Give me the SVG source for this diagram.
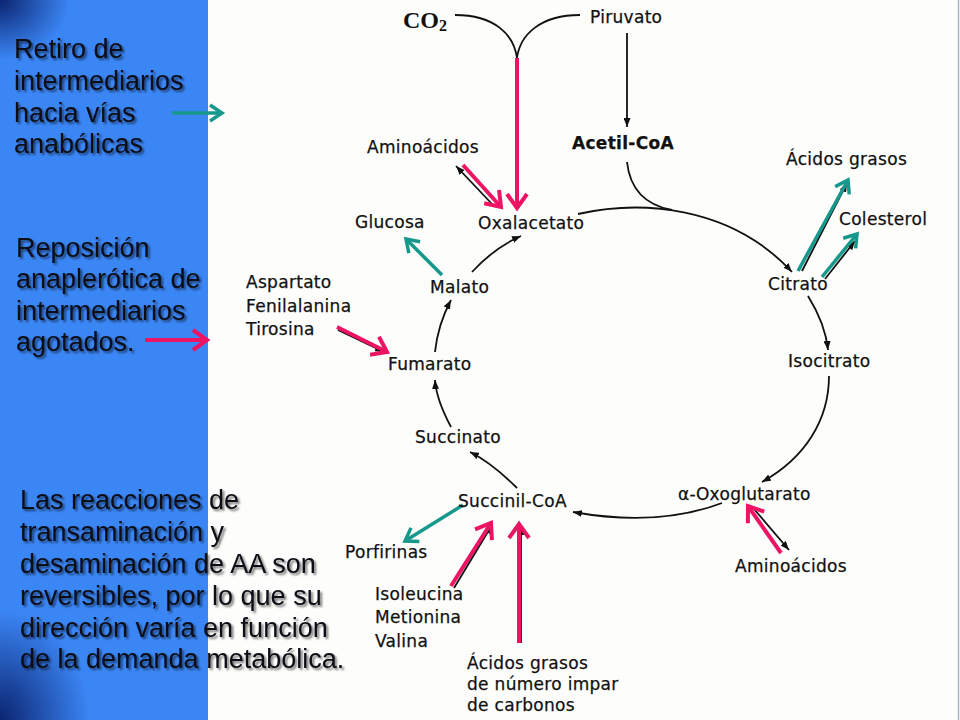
<svg xmlns="http://www.w3.org/2000/svg" width="960" height="720" viewBox="0 0 960 720">
<defs>
<style>
.lbl{font-family:"DejaVu Sans",sans-serif;font-size:17px;letter-spacing:0.3px;fill:#111;stroke:#111;stroke-width:0.25}
.bold{font-weight:bold}
.side{font-family:"Liberation Sans",Arial,sans-serif;font-size:27px;fill:#0a0a14}
.blk{fill:none;stroke:#111;stroke-width:1.8}
.pink{fill:none;stroke:#ec1463;stroke-width:4}
.teal{fill:none;stroke:#17988c;stroke-width:3.5}
</style>
<marker id="ah" viewBox="0 0 9 7" refX="9" refY="3.5" markerWidth="9" markerHeight="7" markerUnits="userSpaceOnUse" orient="auto"><path d="M0,0 L9,3.5 L0,7 z" fill="#111"/></marker>
<marker id="ph" viewBox="0 0 18 24" refX="16" refY="12" markerWidth="18" markerHeight="24" markerUnits="userSpaceOnUse" orient="auto" overflow="visible"><path d="M2,2 L16,12 L2,22" fill="none" stroke="#ec1463" stroke-width="4"/></marker>
<marker id="th" viewBox="0 0 16 20" refX="14" refY="10" markerWidth="16" markerHeight="20" markerUnits="userSpaceOnUse" orient="auto" overflow="visible"><path d="M2,2 L14,10 L2,18" fill="none" stroke="#17988c" stroke-width="3.5"/></marker>
<radialGradient id="tl" cx="0" cy="0" r="1" gradientUnits="objectBoundingBox"><stop offset="0" stop-color="#0b2470" stop-opacity="1"/><stop offset="1" stop-color="#0b2470" stop-opacity="0"/></radialGradient>
<radialGradient id="bl" cx="0" cy="1" r="1" gradientUnits="objectBoundingBox"><stop offset="0" stop-color="#0b2470" stop-opacity="1"/><stop offset="1" stop-color="#0b2470" stop-opacity="0"/></radialGradient>
<filter id="sh" x="-5%" y="-20%" width="115%" height="150%"><feDropShadow dx="2" dy="2" stdDeviation="1.2" flood-color="#000" flood-opacity="0.55"/></filter>
</defs>

<rect x="0" y="0" width="960" height="720" fill="#fdfdfb"/>
<g id="panel">
<rect x="0" y="0" width="208" height="720" fill="#3b86f5"/>
<rect x="0" y="0" width="70" height="60" fill="url(#tl)"/>
<rect x="0" y="610" width="90" height="110" fill="url(#bl)"/>
</g>
<line x1="958.5" y1="0" x2="958.5" y2="720" stroke="#a8b8c8" stroke-width="1.5"/>

<g id="side-texts" filter="url(#sh)">
<text class="side" x="14" y="58">Retiro de</text>
<text class="side" x="14" y="90">intermediarios</text>
<text class="side" x="14" y="122">hacia vías</text>
<text class="side" x="14" y="153">anabólicas</text>
<text class="side" x="16" y="257">Reposición</text>
<text class="side" x="16" y="288">anaplerótica de</text>
<text class="side" x="16" y="320">intermediarios</text>
<text class="side" x="16" y="351">agotados.</text>
<text class="side" x="20" y="509">Las reacciones de</text>
<text class="side" x="20" y="541">transaminación y</text>
<text class="side" x="20" y="573">desaminación de AA son</text>
<text class="side" x="20" y="605">reversibles, por lo que su</text>
<text class="side" x="20" y="637">dirección varía en función</text>
<text class="side" x="20" y="668">de la demanda metabólica.</text>
</g>

<g id="connectors">
<!-- legend arrows -->
<path class="teal" d="M172,113 L222,113" marker-end="url(#th)"/>
<path class="pink" d="M145,340 L207,340" marker-end="url(#ph)"/>
<!-- cycle -->
<path class="blk" d="M455,15 C495,15 514,35 517,58"/>
<path class="blk" d="M580,15 C540,15 520,35 517,58"/>
<path class="blk" d="M627,33 L627,127" marker-end="url(#ah)"/>
<path class="blk" d="M627,162 C630,190 645,205 672,210"/>
<path class="blk" d="M578,214 C640,200 730,205 792,272" marker-end="url(#ah)"/>
<path class="blk" d="M808,296 C818,312 826,330 828,350" marker-end="url(#ah)"/>
<path class="blk" d="M829,376 C829,420 805,458 762,482" marker-end="url(#ah)"/>
<path class="blk" d="M722,503 C690,515 640,524 573,512" marker-end="url(#ah)"/>
<path class="blk" d="M517,488 C503,474 488,461 470,452" marker-end="url(#ah)"/>
<path class="blk" d="M451,427 C443,412 436,396 435,380" marker-end="url(#ah)"/>
<path class="blk" d="M435,352 C437,333 443,315 451,300" marker-end="url(#ah)"/>
<path class="blk" d="M472,272 C485,258 500,245 521,236" marker-end="url(#ah)"/>
<!-- black under-lines of side reactions -->
<path class="blk" d="M492,204 L456,166" marker-end="url(#ah)"/>
<path class="blk" d="M754,509 L789,550" marker-end="url(#ah)"/>
<path class="blk" d="M802,271 L847,183" marker-end="url(#ah)"/>
<path class="blk" d="M825,279 L855,241" marker-end="url(#ah)"/>
<path class="blk" d="M338,330 L384,352" marker-end="url(#ah)"/>
<path class="blk" d="M454,588 L492,525" marker-end="url(#ah)"/>
<path class="blk" d="M521,643 L521,526" marker-end="url(#ah)"/>
<!-- pink anaplerotic -->
<path class="pink" d="M517,58 L517,208" marker-end="url(#ph)"/>
<path class="pink" d="M463,165 L501,207" marker-end="url(#ph)"/>
<path class="pink" d="M781,553 L748,506" marker-end="url(#ph)"/>
<path class="pink" d="M337,327 L387,352" marker-end="url(#ph)"/>
<path class="pink" d="M451,586 L491,523" marker-end="url(#ph)"/>
<path class="pink" d="M519,643 L519,524" marker-end="url(#ph)"/>
<!-- teal anabolic -->
<path class="teal" d="M798,271 L848,180" marker-end="url(#th)"/>
<path class="teal" d="M822,277 L857,234" marker-end="url(#th)"/>
<path class="teal" d="M442,275 L406,239" marker-end="url(#th)"/>
<path class="teal" d="M463,505 L405,541" marker-end="url(#th)"/>
</g>

<g id="n-co2"><text x="403" y="28" font-family="'Liberation Serif',serif" font-weight="bold" font-size="24" fill="#111">CO<tspan dy="3" font-size="16">2</tspan></text></g>
<g id="n-piruvato"><text class="lbl" x="590" y="23">Piruvato</text></g>
<g id="n-acetilcoa"><text class="lbl bold" x="572" y="149">Acetil-CoA</text></g>
<g id="n-aminoacidos1"><text class="lbl" x="367" y="153">Aminoácidos</text></g>
<g id="n-glucosa"><text class="lbl" x="355" y="228">Glucosa</text></g>
<g id="n-oxalacetato"><text class="lbl" x="478" y="229">Oxalacetato</text></g>
<g id="n-acidosgrasos"><text class="lbl" x="786" y="165">Ácidos grasos</text></g>
<g id="n-colesterol"><text class="lbl" x="839" y="225">Colesterol</text></g>
<g id="n-citrato"><text class="lbl" x="768" y="290">Citrato</text></g>
<g id="n-isocitrato"><text class="lbl" x="788" y="367">Isocitrato</text></g>
<g id="n-oxoglutarato"><text class="lbl" x="678" y="500">α-Oxoglutarato</text></g>
<g id="n-aminoacidos2"><text class="lbl" x="735" y="572">Aminoácidos</text></g>
<g id="n-succinilcoa"><text class="lbl" x="458" y="507">Succinil-CoA</text></g>
<g id="n-porfirinas"><text class="lbl" x="345" y="558">Porfirinas</text></g>
<g id="n-ile-met-val">
<text class="lbl" x="375" y="600">Isoleucina</text>
<text class="lbl" x="375" y="623">Metionina</text>
<text class="lbl" x="375" y="647">Valina</text>
</g>
<g id="n-acidosimpar">
<text class="lbl" x="467" y="669">Ácidos grasos</text>
<text class="lbl" x="467" y="690">de número impar</text>
<text class="lbl" x="467" y="711">de carbonos</text>
</g>
<g id="n-succinato"><text class="lbl" x="415" y="443">Succinato</text></g>
<g id="n-fumarato"><text class="lbl" x="388" y="370">Fumarato</text></g>
<g id="n-malato"><text class="lbl" x="430" y="293">Malato</text></g>
<g id="n-asp-phe-tyr">
<text class="lbl" x="246" y="288">Aspartato</text>
<text class="lbl" x="246" y="312">Fenilalanina</text>
<text class="lbl" x="246" y="335">Tirosina</text>
</g>
</svg>
